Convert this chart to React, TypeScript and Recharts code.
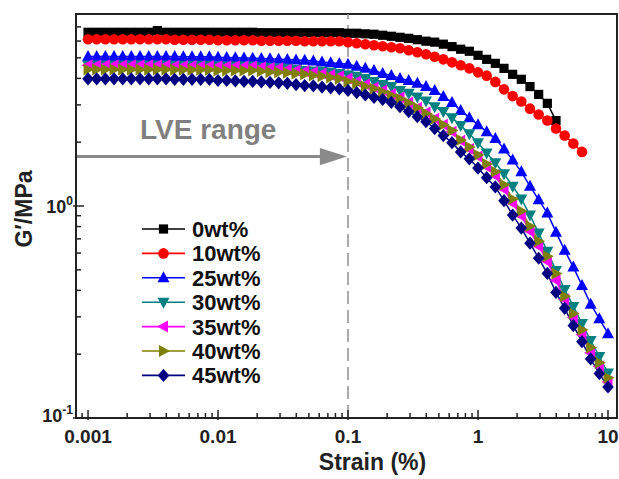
import React from 'react';
import { LineChart, Line, XAxis, YAxis, ReferenceLine, ReferenceArea, Legend, Label } from 'recharts';

// Strain (%) sampled log-uniformly (15 points per decade)
const strain = [
  0.001, 0.001166, 0.001359, 0.001585, 0.001848, 0.002154, 0.002512, 0.002929, 0.003415, 0.003981,
  0.004642, 0.005412, 0.00631, 0.007356, 0.008577, 0.01, 0.01166, 0.01359, 0.01585, 0.01848,
  0.02154, 0.02512, 0.02929, 0.03415, 0.03981, 0.04642, 0.05412, 0.0631, 0.07356, 0.08577,
  0.1, 0.1166, 0.1359, 0.1585, 0.1848, 0.2154, 0.2512, 0.2929, 0.3415, 0.3981,
  0.4642, 0.5412, 0.631, 0.7356, 0.8577, 1, 1.166, 1.359, 1.585, 1.848,
  2.154, 2.512, 2.929, 3.415, 3.981, 4.642, 5.412, 6.31, 7.356, 8.577, 10,
];

// G' (MPa) for each filler content
const g0 = [
  6.6, 6.6, 6.6, 6.6, 6.6, 6.6, 6.6, 6.6, 6.72, 6.6,
  6.6, 6.6, 6.6, 6.6, 6.6, 6.6, 6.6, 6.6, 6.6, 6.6,
  6.57, 6.57, 6.57, 6.57, 6.57, 6.57, 6.57, 6.57, 6.57, 6.57,
  6.53, 6.53, 6.49, 6.46, 6.39, 6.32, 6.25, 6.18, 6.09, 5.99,
  5.93, 5.8, 5.65, 5.49, 5.37, 5.14, 4.92, 4.71, 4.46, 4.18,
  3.96, 3.66, 3.36, 3.05, 2.53,
];
const g10 = [
  6.12, 6.12, 6.12, 6.12, 6.12, 6.12, 6.12, 6.12, 6.12, 6.12,
  6.09, 6.09, 6.09, 6.09, 6.09, 6.05, 6.05, 6.05, 6.05, 6.05,
  6.02, 6.02, 6.02, 6.02, 6.02, 5.99, 5.99, 5.99, 5.99, 5.99,
  5.93, 5.86, 5.8, 5.73, 5.67, 5.61, 5.55, 5.43, 5.31, 5.2,
  5.06, 4.92, 4.76, 4.61, 4.46, 4.27, 4.12, 3.85, 3.55, 3.3,
  3.11, 2.88, 2.7, 2.53, 2.32, 2.15, 1.97, 1.8,
];
const g25 = [
  5.08, 5.08, 5.08, 5.08, 5.08, 5.08, 5.08, 5.08, 5.08, 5.08,
  5.08, 5.06, 5.06, 5.06, 5.06, 5.03, 5.02, 5.0, 4.99, 4.98,
  4.97, 4.95, 4.93, 4.91, 4.89, 4.87, 4.83, 4.78, 4.74, 4.7,
  4.66, 4.56, 4.46, 4.36, 4.22, 4.13, 4.0, 3.91, 3.79, 3.66,
  3.51, 3.29, 3.08, 2.82, 2.61, 2.42, 2.24, 2.08, 1.86, 1.65,
  1.45, 1.24, 1.07, 0.926, 0.753, 0.618, 0.515, 0.422, 0.344, 0.294, 0.25,
];
const g30 = [
  4.63, 4.63, 4.63, 4.63, 4.63, 4.63, 4.63, 4.63, 4.63, 4.63,
  4.61, 4.61, 4.61, 4.61, 4.61, 4.58, 4.58, 4.58, 4.58, 4.58,
  4.53, 4.51, 4.48, 4.46, 4.41, 4.36, 4.34, 4.32, 4.27, 4.22,
  4.15, 4.09, 4.0, 3.87, 3.74, 3.66, 3.51, 3.4, 3.27, 3.13,
  2.94, 2.79, 2.61, 2.4, 2.19, 1.99, 1.78, 1.6, 1.42, 1.24,
  1.08, 0.906, 0.745, 0.612, 0.497, 0.404, 0.336, 0.279, 0.232, 0.195, 0.163,
];
const g35 = [
  4.61, 4.61, 4.61, 4.61, 4.61, 4.61, 4.61, 4.61, 4.61, 4.61,
  4.58, 4.58, 4.58, 4.58, 4.58, 4.56, 4.56, 4.56, 4.56, 4.56,
  4.51, 4.48, 4.46, 4.41, 4.36, 4.32, 4.27, 4.22, 4.15, 4.09,
  4.0, 3.87, 3.74, 3.62, 3.51, 3.38, 3.25, 3.08, 2.91, 2.76,
  2.58, 2.42, 2.24, 2.03, 1.86, 1.71, 1.53, 1.39, 1.2, 1.03,
  0.897, 0.761, 0.646, 0.548, 0.446, 0.362, 0.298, 0.247, 0.203, 0.175, 0.148,
];
const g40 = [
  4.41, 4.41, 4.41, 4.41, 4.41, 4.41, 4.41, 4.41, 4.41, 4.41,
  4.39, 4.39, 4.39, 4.39, 4.39, 4.36, 4.36, 4.36, 4.36, 4.36,
  4.32, 4.29, 4.27, 4.25, 4.22, 4.18, 4.13, 4.09, 4.04, 3.98,
  3.87, 3.79, 3.66, 3.57, 3.45, 3.32, 3.21, 3.06, 2.91, 2.73,
  2.57, 2.42, 2.27, 2.05, 1.9, 1.74, 1.58, 1.45, 1.26, 1.08,
  0.947, 0.803, 0.682, 0.579, 0.481, 0.375, 0.311, 0.261, 0.215, 0.182, 0.155,
];
const g45 = [
  3.98, 3.98, 3.98, 3.98, 3.98, 3.98, 3.98, 3.98, 3.98, 3.98,
  3.96, 3.96, 3.96, 3.96, 3.96, 3.91, 3.91, 3.89, 3.87, 3.87,
  3.85, 3.83, 3.81, 3.79, 3.74, 3.7, 3.69, 3.64, 3.61, 3.57,
  3.51, 3.43, 3.34, 3.25, 3.18, 3.08, 2.94, 2.79, 2.64, 2.5,
  2.32, 2.15, 1.99, 1.8, 1.67, 1.51, 1.36, 1.23, 1.06, 0.906,
  0.787, 0.668, 0.567, 0.481, 0.391, 0.329, 0.273, 0.229, 0.19, 0.162, 0.14,
];

const seriesNames = ['0wt%', '10wt%', '25wt%', '30wt%', '35wt%', '40wt%', '45wt%'];
const seriesColors = ['#000000', '#ff0000', '#0000ff', '#008080', '#ff00ff', '#808000', '#000080'];
const seriesShapes = ['square', 'circle', 'up', 'down', 'left', 'right', 'diamond'];
const seriesValues = [g0, g10, g25, g30, g35, g40, g45];

const xMajorTicks = [0.001, 0.01, 0.1, 1, 10];
const xTickLabels = ['0.001', '0.01', '0.1', '1', '10'];
const xMinorTicks = [
  0.0009,
  0.002, 0.003, 0.004, 0.005, 0.006, 0.007, 0.008, 0.009,
  0.02, 0.03, 0.04, 0.05, 0.06, 0.07, 0.08, 0.09,
  0.2, 0.3, 0.4, 0.5, 0.6, 0.7, 0.8, 0.9,
  2, 3, 4, 5, 6, 7, 8, 9,
];
const yMajorTicks = [0.1, 1];
const yTickExponents = ['-1', '0'];
const yMinorTicks = [0.2, 0.3, 0.4, 0.5, 0.6, 0.7, 0.8, 0.9, 2, 3, 4, 5, 6, 7];

const xDomain = [0.000808, 11.73];
const yDomain = [0.1, 8.05];
const lveStrain = 0.1;
const lveArrowLevel = 1.71;
const lveArrowEnd = 0.098;
const lveLabel = 'LVE range';
const xTitle = 'Strain (%)';
const yTitle = 'G\u2032/MPa';

const FONT = "'Liberation Sans', Arial, Helvetica, sans-serif";
const AXIS = '#222222';
const GRAY = '#8a8a8a';

const rows = strain.map((s, i) => {
  const r: Record<string, number | undefined> = { strain: s };
  seriesNames.forEach((n, j) => {
    r[n] = seriesValues[j][i];
  });
  return r;
});

function Marker({ shape, cx, cy, color }: { shape: string; cx: number; cy: number; color: string }) {
  switch (shape) {
    case 'square':
      return <rect x={cx - 4.6} y={cy - 4.6} width={9.2} height={9.2} fill={color} />;
    case 'circle':
      return <circle cx={cx} cy={cy} r={5.3} fill={color} />;
    case 'up':
      return <polygon points={`${cx},${cy - 6.5} ${cx - 6},${cy + 4.5} ${cx + 6},${cy + 4.5}`} fill={color} />;
    case 'down':
      return <polygon points={`${cx},${cy + 6.5} ${cx - 6},${cy - 4.5} ${cx + 6},${cy - 4.5}`} fill={color} />;
    case 'left':
      return <polygon points={`${cx - 6.5},${cy} ${cx + 4.5},${cy - 6} ${cx + 4.5},${cy + 6}`} fill={color} />;
    case 'right':
      return <polygon points={`${cx + 6.5},${cy} ${cx - 4.5},${cy - 6} ${cx - 4.5},${cy + 6}`} fill={color} />;
    default:
      return <polygon points={`${cx},${cy - 6.6} ${cx + 5.8},${cy} ${cx},${cy + 6.6} ${cx - 5.8},${cy}`} fill={color} />;
  }
}

const makeDot = (shape: string, color: string) => (props: any) => {
  const { cx, cy, index } = props;
  if (typeof cx !== 'number' || typeof cy !== 'number' || isNaN(cx) || isNaN(cy)) {
    return <g key={`dot-${index}`} />;
  }
  return (
    <g key={`dot-${index}`}>
      <Marker shape={shape} cx={cx} cy={cy} color={color} />
    </g>
  );
};

const XTick = (props: any) => {
  const { x, y, payload } = props;
  const idx = xMajorTicks.indexOf(payload.value);
  const major = idx >= 0;
  return (
    <g>
      <line x1={x} x2={x} y1={y + (major ? 2 : 0)} y2={y - (major ? 8 : 5)} stroke={AXIS} strokeWidth={1.5} />
      {major && (
        <text x={x} y={y + 25} textAnchor="middle" fontFamily={FONT} fontWeight="bold" fontSize={19} fill="#222">
          {xTickLabels[idx]}
        </text>
      )}
    </g>
  );
};

const YTick = (props: any) => {
  const { x, y, payload } = props;
  const idx = yMajorTicks.indexOf(payload.value);
  const major = idx >= 0;
  return (
    <g>
      <line x1={x - (major ? 3 : 0)} x2={x + (major ? 8 : 5)} y1={y} y2={y} stroke={AXIS} strokeWidth={1.5} />
      {major && (
        <text x={x - 3} y={y + (idx === 0 ? 4 : 7)} textAnchor="end" fontFamily={FONT} fontWeight="bold" fill="#222">
          <tspan fontSize={18}>10</tspan>
          <tspan fontSize={12} dy={-8}>{yTickExponents[idx]}</tspan>
        </text>
      )}
    </g>
  );
};

const ArrowShape = (props: any) => {
  const { x1, y1, x2, y2 } = props;
  if ([x1, y1, x2, y2].some((v) => typeof v !== 'number' || isNaN(v))) return <g />;
  const head = 27;
  return (
    <g>
      <line x1={x1} y1={y1} x2={x2 - head + 2} y2={y2} stroke={GRAY} strokeWidth={3} />
      <polygon points={`${x2},${y2} ${x2 - head},${y2 - 8.7} ${x2 - head},${y2 + 8.7}`} fill={GRAY} />
      <text x={x1 + 64} y={y1 - 18} fontFamily={FONT} fontWeight="bold" fontSize={28} fill="#808080">
        {lveLabel}
      </text>
    </g>
  );
};

const LegendContent = () => {
  const rowH = 24.4;
  return (
    <svg width={150} height={rowH * seriesNames.length + 6} style={{ display: 'block', overflow: 'visible' }}>
      {seriesNames.map((n, i) => {
        const cy = 13 + i * rowH;
        return (
          <g key={n}>
            <line x1={2} x2={45} y1={cy} y2={cy} stroke={seriesColors[i]} strokeWidth={1.6} />
            <Marker shape={seriesShapes[i]} cx={23.5} cy={cy} color={seriesColors[i]} />
            <text x={52} y={cy + 8} fontFamily={FONT} fontWeight="bold" fontSize={22} fill="#111">
              {n}
            </text>
          </g>
        );
      })}
    </svg>
  );
};

export default function App() {
  return (
    <div style={{ position: 'absolute', left: 0, top: 0, width: 619, height: 479, background: '#fff' }}>
      <LineChart width={619} height={479} data={rows} margin={{ top: 14, right: 2, bottom: 0, left: 0 }}>
        <XAxis
          dataKey="strain"
          type="number"
          scale="log"
          domain={xDomain}
          allowDataOverflow
          ticks={[...xMinorTicks, ...xMajorTicks]}
          interval={0}
          tick={<XTick />}
          tickLine={false}
          tickSize={0}
          tickMargin={0}
          axisLine={{ stroke: AXIS, strokeWidth: 2 }}
          height={61}
        >
          <Label
            content={(p: any) => {
              const vb = p.viewBox;
              return (
                <text x={vb.x + vb.width / 2 + 26} y={vb.y + 52} textAnchor="middle" fontFamily={FONT} fontWeight="bold" fontSize={23} fill="#222">
                  {xTitle}
                </text>
              );
            }}
          />
        </XAxis>
        <YAxis
          type="number"
          scale="log"
          domain={yDomain}
          allowDataOverflow
          ticks={[...yMinorTicks, ...yMajorTicks]}
          interval={0}
          tick={<YTick />}
          tickLine={false}
          tickSize={0}
          tickMargin={0}
          axisLine={{ stroke: AXIS, strokeWidth: 2 }}
          width={76}
        >
          <Label
            content={(p: any) => {
              const vb = p.viewBox;
              const cx = vb.x + 32;
              const cy = vb.y + vb.height / 2 - 7;
              return (
                <text x={cx} y={cy} transform={`rotate(-90, ${cx}, ${cy})`} textAnchor="middle" fontFamily={FONT} fontWeight="bold" fontSize={23} fill="#222">
                  {yTitle}
                </text>
              );
            }}
          />
        </YAxis>
        <ReferenceArea
          x1={xDomain[0]}
          x2={xDomain[1]}
          y1={yDomain[0]}
          y2={yDomain[1]}
          fill="none"
          stroke={AXIS}
          strokeWidth={2}
          ifOverflow="visible"
        />
        <ReferenceLine x={lveStrain} stroke="#999999" strokeWidth={1.6} strokeDasharray="13 6" ifOverflow="visible" />
        <ReferenceLine
          segment={[
            { x: xDomain[0], y: lveArrowLevel },
            { x: lveArrowEnd, y: lveArrowLevel },
          ]}
          ifOverflow="visible"
          shape={<ArrowShape />}
        />
        {seriesNames.map((n, i) => (
          <Line
            key={n}
            dataKey={n}
            name={n}
            type="linear"
            stroke={seriesColors[i]}
            strokeWidth={1.5}
            dot={makeDot(seriesShapes[i], seriesColors[i])}
            activeDot={false}
            isAnimationActive={false}
            connectNulls={false}
          />
        ))}
        <Legend
          layout="vertical"
          align="center"
          verticalAlign="middle"
          wrapperStyle={{ left: 140, top: 216, width: 150 }}
          content={<LegendContent />}
        />
      </LineChart>
    </div>
  );
}
